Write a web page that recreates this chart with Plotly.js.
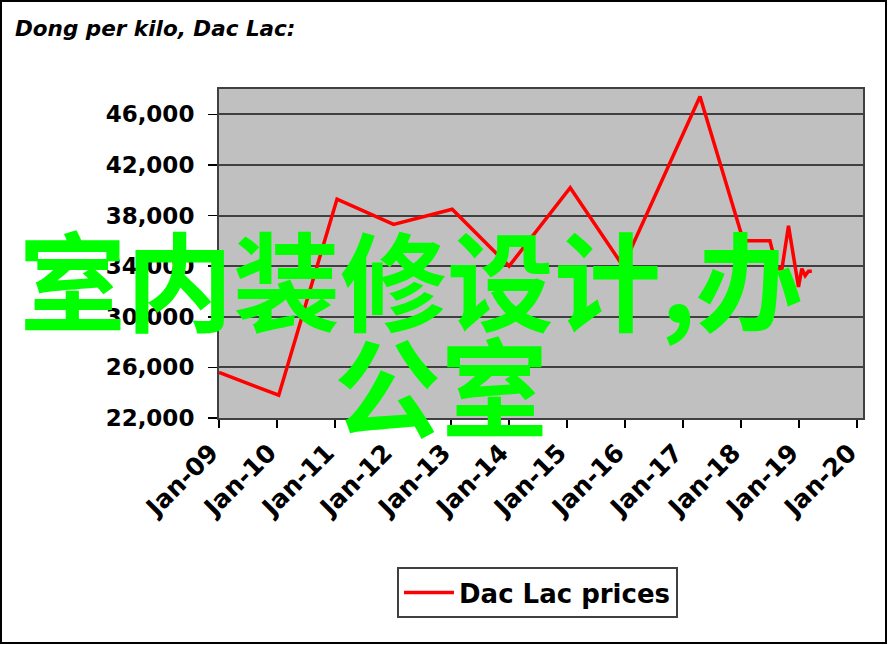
<!DOCTYPE html>
<html>
<head>
<meta charset="utf-8">
<script src="https://cdn.plot.ly/plotly-3.0.1.min.js"></script>
<style>
  html, body { margin: 0; padding: 0; background: #fff; }
  #wrap { position: relative; width: 889px; height: 645px; }
  #chart { position: absolute; left: 0; top: 0; width: 889px; height: 645px; }
  #frame { position: absolute; left: 0; top: 0; width: 887px; height: 644px;
           box-sizing: border-box; border: 2px solid #000; pointer-events: none; }
</style>
</head>
<body>
<div id="wrap">
  <div id="chart"></div>
  <div id="frame"></div>
</div>
<script>
// ---- data ----
const dates = [
  '2009-01-01', '2010-01-12', '2011-01-14', '2012-01-05', '2013-01-08',
  '2014-01-01', '2015-01-21', '2015-12-20', '2017-04-17', '2018-01-15',
  '2018-07-01', '2018-08-15', '2018-09-15', '2018-10-26', '2018-12-28',
  '2019-01-18', '2019-02-08', '2019-03-01', '2019-03-22'
];
const prices = [
  25600, 23800, 39300, 37300, 38500,
  34000, 40200, 34000, 47400, 36000,
  36000, 33800, 33800, 37200, 32350,
  33800, 33250, 33600, 33600
];
const seriesName = 'Dac Lac prices';
const chartTitle = 'Dong per kilo, Dac Lac:';
const watermarkLine1 = '室内装修设计,办';
const watermarkLine2 = '公室';

const trace = {
  type: 'scatter',
  mode: 'lines',
  x: dates,
  y: prices,
  name: '<b>' + seriesName + '</b>',
  line: { color: '#FF0000', width: 3.5 },
  showlegend: true
};

const layout = {
  width: 889,
  height: 645,
  margin: { l: 219, r: 26, t: 89, b: 227 },
  paper_bgcolor: '#FFFFFF',
  plot_bgcolor: '#C0C0C0',
  title: {
    text: '<b><i>' + chartTitle + '</i></b>',
    x: 15 / 889, xref: 'container', xanchor: 'left',
    y: 1 - 28 / 645, yref: 'container', yanchor: 'middle',
    font: { family: 'DejaVu Sans', size: 21.5, color: '#000', weight: 'bold', style: 'italic' }
  },
  xaxis: {
    type: 'date',
    range: ['2009-01-01', '2020-02-07'],
    tick0: '2009-01-01',
    dtick: 'M12',
    tickformat: '%b-%y',
    tickangle: -45,
    ticks: 'outside',
    ticklen: 8,
    tickwidth: 1.5,
    tickcolor: '#000',
    ticklabelshift: -8,
    showgrid: false,
    zeroline: false,
    showline: true,
    linecolor: '#404040',
    linewidth: 2,
    mirror: true,
    tickfont: { family: 'DejaVu Sans', size: 25, color: '#000', weight: 'bold' }
  },
  yaxis: {
    range: [22000, 48000],
    tick0: 22000,
    dtick: 4000,
    tickformat: ',d',
    ticks: 'outside',
    ticklen: 9,
    tickwidth: 1.5,
    tickcolor: '#000',
    ticklabelstandoff: 9,
    showgrid: true,
    gridcolor: '#404040',
    gridwidth: 2,
    zeroline: false,
    showline: true,
    linecolor: '#404040',
    linewidth: 2,
    mirror: true,
    tickfont: { family: 'DejaVu Sans', size: 23, color: '#000', weight: 'bold' }
  },
  showlegend: true,
  legend: {
    x: (397 - 219) / 644, xanchor: 'left',
    y: (418 - 567) / 329, yanchor: 'top',
    bgcolor: '#FFFFFF',
    bordercolor: '#404040',
    borderwidth: 2,
    itemwidth: 50,
    font: { family: 'DejaVu Sans', size: 26, color: '#000', weight: 'bold' }
  },
  annotations: [
    {
      text: watermarkLine1,
      xref: 'paper', yref: 'paper',
      x: (17 - 219) / 644, xanchor: 'left',
      y: (418 - 276) / 329, yanchor: 'middle',
      showarrow: false,
      font: { family: 'Noto Sans CJK SC', size: 107, color: '#00FF00', weight: 'bold' }
    },
    {
      text: watermarkLine2,
      xref: 'paper', yref: 'paper',
      x: (332 - 219) / 644, xanchor: 'left',
      y: (418 - 382) / 329, yanchor: 'middle',
      showarrow: false,
      font: { family: 'Noto Sans CJK SC', size: 107, color: '#00FF00', weight: 'bold' }
    }
  ]
};

Plotly.newPlot('chart', [trace], layout, { displayModeBar: false, staticPlot: true });
</script>
</body>
</html>
